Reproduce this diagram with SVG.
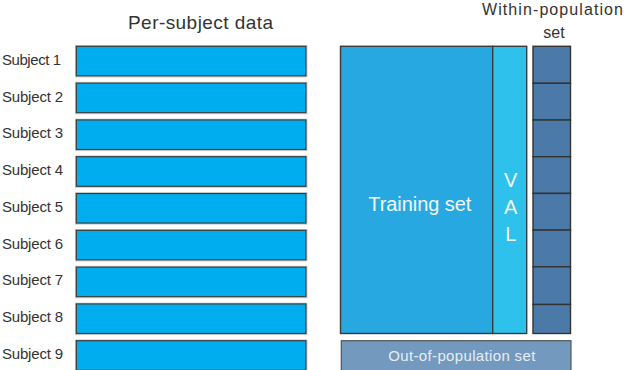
<svg xmlns="http://www.w3.org/2000/svg" width="624" height="370" viewBox="0 0 624 370">
<style>
text{font-family:"Liberation Sans","DejaVu Sans",sans-serif;}
.lbl{font-size:15px;fill:#333;}
.ttl{fill:#333;}
.bar{fill:#00aeef;stroke:#3a3a3a;stroke-width:1.2;}
.halo{fill:none;stroke:#cfcfcf;stroke-width:1;}
.train{fill:#27a8e0;stroke:#3a3a3a;stroke-width:1.4;}
.val{fill:#2dc1ec;stroke:#3a3a3a;stroke-width:1.4;}
.cell{fill:#4b79a8;stroke:#333;stroke-width:1.4;}
.oop{fill:#7399be;stroke:#555;stroke-width:1.2;}
.wt{fill:#f2f8fc;}
</style>
<rect width="624" height="370" fill="#fff"/>
<text class="ttl" x="128" y="29" font-size="19" textLength="145">Per-subject data</text>
<text class="ttl" x="482" y="15" font-size="16" textLength="141">Within-population</text>
<text class="ttl" x="554" y="38" font-size="16" text-anchor="middle">set</text>
<g id="subject1"><rect class="halo" x="75.5" y="45.5" width="231.5" height="31.5"/><rect class="bar" x="76.3" y="46.3" width="229.7" height="29.6"/><text class="lbl" x="2" y="65" textLength="59">Subject 1</text></g>
<g id="subject2"><rect class="halo" x="75.5" y="82.3" width="231.5" height="31.5"/><rect class="bar" x="76.3" y="83.1" width="229.7" height="29.6"/><text class="lbl" x="2" y="101.7" textLength="61">Subject 2</text></g>
<g id="subject3"><rect class="halo" x="75.5" y="119.1" width="231.5" height="31.5"/><rect class="bar" x="76.3" y="119.9" width="229.7" height="29.6"/><text class="lbl" x="2" y="138.4" textLength="61">Subject 3</text></g>
<g id="subject4"><rect class="halo" x="75.5" y="155.9" width="231.5" height="31.5"/><rect class="bar" x="76.3" y="156.7" width="229.7" height="29.6"/><text class="lbl" x="2" y="175.1" textLength="61">Subject 4</text></g>
<g id="subject5"><rect class="halo" x="75.5" y="192.7" width="231.5" height="31.5"/><rect class="bar" x="76.3" y="193.5" width="229.7" height="29.6"/><text class="lbl" x="2" y="211.8" textLength="61">Subject 5</text></g>
<g id="subject6"><rect class="halo" x="75.5" y="229.5" width="231.5" height="31.5"/><rect class="bar" x="76.3" y="230.3" width="229.7" height="29.6"/><text class="lbl" x="2" y="248.5" textLength="61">Subject 6</text></g>
<g id="subject7"><rect class="halo" x="75.5" y="266.3" width="231.5" height="31.5"/><rect class="bar" x="76.3" y="267.1" width="229.7" height="29.6"/><text class="lbl" x="2" y="285.2" textLength="61">Subject 7</text></g>
<g id="subject8"><rect class="halo" x="75.5" y="303.1" width="231.5" height="31.5"/><rect class="bar" x="76.3" y="303.9" width="229.7" height="29.6"/><text class="lbl" x="2" y="321.9" textLength="61">Subject 8</text></g>
<g id="subject9"><rect class="halo" x="75.5" y="339.9" width="231.5" height="31.5"/><rect class="bar" x="76.3" y="340.7" width="229.7" height="29.6"/><text class="lbl" x="2" y="358.6" textLength="61">Subject 9</text></g>
<g id="training-set"><rect class="train" x="340.5" y="46.3" width="152.2" height="287.2"/><text class="wt" x="368.3" y="211" font-size="20" textLength="103">Training set</text></g>
<g id="val"><rect class="val" x="492.7" y="46.3" width="34" height="287.2"/><text class="wt" x="510.7" y="187" font-size="20" text-anchor="middle">V</text><text class="wt" x="510.7" y="214" font-size="20" text-anchor="middle">A</text><text class="wt" x="510.7" y="241" font-size="20" text-anchor="middle">L</text></g>
<g id="within-population-set">
<rect class="cell" x="533" y="46.3" width="37.5" height="37"/>
<rect class="cell" x="533" y="83.3" width="37.5" height="36.7"/>
<rect class="cell" x="533" y="120" width="37.5" height="36.7"/>
<rect class="cell" x="533" y="156.7" width="37.5" height="36.7"/>
<rect class="cell" x="533" y="193.4" width="37.5" height="36.7"/>
<rect class="cell" x="533" y="230.1" width="37.5" height="36.7"/>
<rect class="cell" x="533" y="266.8" width="37.5" height="37.7"/>
<rect class="cell" x="533" y="304.5" width="37.5" height="29"/>
</g>
<g id="out-of-population-set"><rect class="oop" x="341.3" y="340.7" width="229.7" height="30"/><text x="388.3" y="361" font-size="15" textLength="147" fill="#e6edf4">Out-of-population set</text></g>
<g id="connectors"></g>
</svg>
